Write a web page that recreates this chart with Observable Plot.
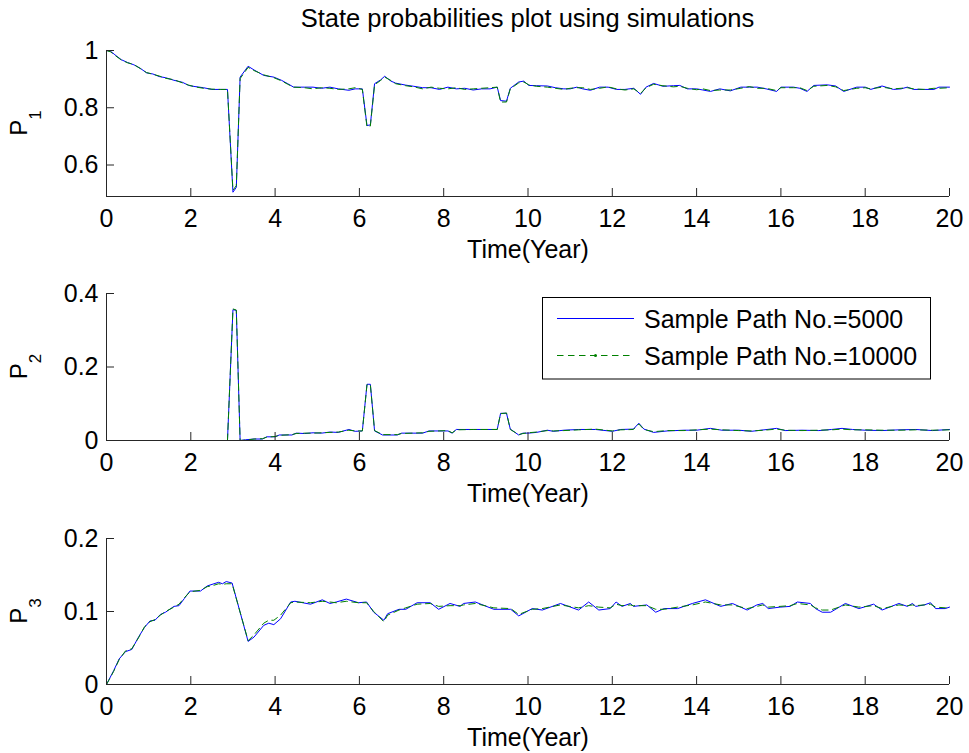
<!DOCTYPE html>
<html><head><meta charset="utf-8">
<script src="https://cdn.jsdelivr.net/npm/d3@7"></script>
<script src="https://cdn.jsdelivr.net/npm/@observablehq/plot@0.6"></script>
<style>
body{margin:0;background:#fff;}
#fig{position:relative;width:969px;height:753px;overflow:hidden;}
#fig svg{position:absolute;left:0;overflow:visible;}
</style></head><body><div id="fig"></div>
<script>
const FONT = '"Liberation Sans", Arial, Helvetica, sans-serif';
const chartTitle = "State probabilities plot using simulations";
const xLabel = "Time(Year)";
const yLabelBase = "P";
const ySubs = ["1", "2", "3"];
const seriesNames = ["Sample Path No.=5000", "Sample Path No.=10000"];
const xTicks = [0, 2, 4, 6, 8, 10, 12, 14, 16, 18, 20];
const yTicks1 = [0.6, 0.8, 1];
const yTicks2 = [0, 0.2, 0.4];
const yTicks3 = [0, 0.1, 0.2];
const yDomain1 = [0.49, 1];
const yDomain2 = [0, 0.4];
const yDomain3 = [0, 0.2];

const t1 = [
0, 0.1, 0.2, 0.35, 0.5, 0.65, 0.8, 0.95, 1.1, 1.25,
1.4, 1.6, 1.8, 1.95, 2.1, 2.3, 2.5, 2.7, 2.87, 3.0,
3.08, 3.17, 3.36, 3.5, 3.73, 3.97, 4.15, 4.3, 4.44, 4.7,
4.9, 5.1, 5.3, 5.5, 5.75, 5.9, 6.07, 6.18, 6.26, 6.36,
6.5, 6.6, 6.75, 6.86, 7.1, 7.29, 7.5, 7.7, 7.9, 8.1,
8.3, 8.5, 8.7, 8.9, 9.1, 9.27, 9.35, 9.49, 9.58, 9.78,
9.9, 10.02, 10.2, 10.46, 10.65, 10.85, 11.0, 11.16, 11.3, 11.48,
11.7, 11.9, 12.1, 12.3, 12.51, 12.67, 12.8, 12.98, 13.2, 13.45,
13.6, 13.78, 14.0, 14.15, 14.33, 14.55, 14.8, 15.05, 15.25, 15.44,
15.65, 15.9, 16.0, 16.3, 16.45, 16.62, 16.78, 17.1, 17.3, 17.49,
17.8, 18.0, 18.13, 18.4, 18.67, 18.85, 19.0, 19.15, 19.4, 19.63,
19.75, 20];
const p1_5000 = [
1.0, 0.997, 0.985, 0.968, 0.958, 0.950, 0.938, 0.922, 0.918, 0.909,
0.905, 0.896, 0.889, 0.878, 0.874, 0.870, 0.864, 0.864, 0.864, 0.505,
0.522, 0.907, 0.945, 0.932, 0.913, 0.907, 0.896, 0.884, 0.872, 0.872,
0.872, 0.868, 0.872, 0.866, 0.861, 0.866, 0.866, 0.738, 0.740, 0.884,
0.897, 0.910, 0.893, 0.886, 0.879, 0.875, 0.870, 0.870, 0.864, 0.872,
0.866, 0.868, 0.862, 0.866, 0.866, 0.872, 0.825, 0.823, 0.868, 0.890,
0.893, 0.878, 0.877, 0.876, 0.870, 0.866, 0.866, 0.872, 0.866, 0.861,
0.872, 0.872, 0.864, 0.864, 0.868, 0.847, 0.872, 0.885, 0.875, 0.877,
0.878, 0.866, 0.866, 0.862, 0.857, 0.866, 0.859, 0.872, 0.872, 0.872,
0.866, 0.857, 0.872, 0.872, 0.868, 0.857, 0.878, 0.880, 0.876, 0.857,
0.872, 0.872, 0.864, 0.876, 0.864, 0.866, 0.872, 0.864, 0.864, 0.864,
0.872, 0.872];
const p1_10000 = [
1.0, 0.995, 0.983, 0.967, 0.957, 0.951, 0.937, 0.923, 0.917, 0.911,
0.903, 0.898, 0.887, 0.879, 0.873, 0.868, 0.865, 0.864, 0.864, 0.512,
0.528, 0.902, 0.941, 0.930, 0.915, 0.905, 0.894, 0.882, 0.872, 0.870,
0.866, 0.870, 0.868, 0.864, 0.866, 0.870, 0.864, 0.733, 0.736, 0.880,
0.895, 0.907, 0.895, 0.884, 0.877, 0.873, 0.866, 0.872, 0.868, 0.866,
0.870, 0.864, 0.866, 0.868, 0.870, 0.872, 0.820, 0.820, 0.866, 0.887,
0.890, 0.880, 0.875, 0.872, 0.868, 0.864, 0.868, 0.870, 0.870, 0.864,
0.868, 0.873, 0.866, 0.862, 0.866, 0.850, 0.870, 0.882, 0.877, 0.873,
0.875, 0.868, 0.863, 0.866, 0.860, 0.862, 0.862, 0.868, 0.874, 0.868,
0.868, 0.860, 0.870, 0.870, 0.870, 0.860, 0.875, 0.878, 0.873, 0.860,
0.868, 0.870, 0.866, 0.872, 0.866, 0.868, 0.870, 0.866, 0.864, 0.868,
0.868, 0.870];

const t2 = [
0, 2.87, 3.0, 3.08, 3.17, 3.3, 3.5, 3.7, 3.8, 4.0,
4.1, 4.4, 4.5, 4.7, 4.9, 5.1, 5.3, 5.5, 5.75, 5.9,
6.07, 6.18, 6.26, 6.36, 6.55, 6.9, 7.0, 7.5, 7.65, 8.1,
8.2, 8.3, 8.7, 9.27, 9.35, 9.49, 9.58, 9.78, 9.88, 10.0,
10.2, 10.46, 10.6, 10.85, 11.2, 11.6, 12.0, 12.2, 12.5, 12.63,
12.75, 12.98, 13.3, 13.7, 14.0, 14.33, 14.6, 15.0, 15.3, 15.6,
15.9, 16.1, 16.5, 16.9, 17.2, 17.45, 17.7, 18.0, 18.4, 18.8,
19.2, 19.6, 20];
const p2_5000 = [
0, 0, 0.356, 0.354, 0, 0.002, 0.004, 0.004, 0.01, 0.01,
0.015, 0.015, 0.02, 0.019, 0.021, 0.02, 0.023, 0.022, 0.03, 0.025,
0.026, 0.153, 0.153, 0.026, 0.015, 0.015, 0.02, 0.02, 0.026, 0.026,
0.02, 0.03, 0.03, 0.03, 0.074, 0.074, 0.031, 0.015, 0.02, 0.02,
0.022, 0.028, 0.025, 0.028, 0.03, 0.03, 0.025, 0.03, 0.031, 0.047,
0.031, 0.022, 0.026, 0.028, 0.028, 0.033, 0.028, 0.028, 0.025, 0.029,
0.033, 0.027, 0.028, 0.027, 0.03, 0.033, 0.03, 0.028, 0.027, 0.029,
0.03, 0.027, 0.03];
const p2_10000 = [
0, 0, 0.358, 0.355, 0, 0.001, 0.004, 0.005, 0.009, 0.011,
0.014, 0.016, 0.019, 0.02, 0.02, 0.021, 0.022, 0.023, 0.028, 0.026,
0.026, 0.152, 0.152, 0.027, 0.016, 0.016, 0.019, 0.021, 0.025, 0.027,
0.021, 0.029, 0.03, 0.03, 0.073, 0.075, 0.03, 0.016, 0.019, 0.021,
0.023, 0.027, 0.026, 0.027, 0.029, 0.031, 0.026, 0.029, 0.03, 0.045,
0.03, 0.024, 0.027, 0.027, 0.029, 0.031, 0.029, 0.027, 0.026, 0.028,
0.031, 0.028, 0.027, 0.028, 0.029, 0.031, 0.029, 0.029, 0.028, 0.028,
0.029, 0.028, 0.029];

const t3 = [
0, 0.17, 0.3, 0.45, 0.6, 0.77, 0.9, 1.03, 1.15, 1.28,
1.4, 1.6, 1.72, 1.85, 1.98, 2.23, 2.39, 2.55, 2.66, 2.75,
2.84, 2.98, 3.36, 3.5, 3.73, 3.85, 3.97, 4.13, 4.37, 4.47,
4.84, 5.12, 5.3, 5.45, 5.69, 5.98, 6.17, 6.34, 6.58, 6.67,
6.94, 7.1, 7.37, 7.68, 7.88, 8.15, 8.39, 8.47, 8.75, 9.19,
9.59, 9.78, 10.1, 10.34, 10.77, 11.2, 11.44, 11.68, 11.95, 12.09,
12.23, 12.43, 12.5, 12.82, 13.03, 13.23, 13.55, 13.9, 14.21, 14.57,
14.85, 15.2, 15.43, 15.57, 15.7, 15.98, 16.22, 16.39, 16.7, 16.82,
16.98, 17.18, 17.53, 17.85, 18.2, 18.4, 18.8, 19.0, 19.12, 19.2,
19.4, 19.55, 19.67, 19.9, 20];
const p3_5000 = [
0, 0.019, 0.035, 0.045, 0.048, 0.066, 0.078, 0.087, 0.088, 0.096,
0.099, 0.107, 0.108, 0.118, 0.128, 0.128, 0.135, 0.138, 0.140, 0.138,
0.141, 0.139, 0.059, 0.065, 0.081, 0.084, 0.082, 0.090, 0.113, 0.114,
0.110, 0.116, 0.111, 0.113, 0.117, 0.112, 0.113, 0.099, 0.088, 0.097,
0.103, 0.103, 0.112, 0.112, 0.103, 0.111, 0.107, 0.111, 0.113, 0.103,
0.103, 0.094, 0.104, 0.102, 0.111, 0.102, 0.113, 0.102, 0.104, 0.113,
0.107, 0.111, 0.107, 0.109, 0.099, 0.104, 0.104, 0.111, 0.116, 0.107,
0.111, 0.102, 0.109, 0.111, 0.104, 0.106, 0.107, 0.113, 0.111, 0.104,
0.099, 0.099, 0.111, 0.104, 0.110, 0.102, 0.111, 0.107, 0.111, 0.107,
0.109, 0.112, 0.104, 0.104, 0.106];
const p3_10000 = [
0, 0.018, 0.034, 0.046, 0.049, 0.065, 0.079, 0.086, 0.089, 0.095,
0.100, 0.106, 0.110, 0.119, 0.127, 0.129, 0.134, 0.136, 0.138, 0.137,
0.138, 0.138, 0.060, 0.068, 0.084, 0.088, 0.088, 0.095, 0.112, 0.113,
0.112, 0.114, 0.113, 0.112, 0.114, 0.112, 0.112, 0.100, 0.086, 0.095,
0.102, 0.105, 0.110, 0.111, 0.107, 0.108, 0.108, 0.109, 0.111, 0.105,
0.104, 0.096, 0.103, 0.104, 0.109, 0.105, 0.108, 0.106, 0.105, 0.110,
0.108, 0.109, 0.108, 0.108, 0.103, 0.103, 0.106, 0.109, 0.113, 0.109,
0.109, 0.104, 0.107, 0.109, 0.106, 0.107, 0.108, 0.111, 0.109, 0.105,
0.102, 0.102, 0.109, 0.106, 0.108, 0.104, 0.109, 0.108, 0.109, 0.108,
0.109, 0.110, 0.106, 0.105, 0.106];

const BLUE = "#0000ff", GREEN = "#008000", AX = "#262626";
const DASH = "6.5,4.5";
const fig = document.getElementById("fig");

function panel(t, s5000, s10000, yDomain, yTicks, sub, top, mt, fh, h) {
  const rows = t.map((x, i) => ({t: x, a: s5000[i], b: s10000[i]}));
  const svg = Plot.plot({
    width: 969, height: h,
    marginLeft: 106, marginRight: 20, marginTop: mt, marginBottom: h - mt - fh,
    style: {fontFamily: FONT, fontSize: "25px", background: "transparent", color: "black", overflow: "visible"},
    x: {domain: [0, 20]},
    y: {domain: yDomain},
    marks: [
      Plot.line(rows, {x: "t", y: "a", stroke: BLUE, strokeWidth: 1}),
      Plot.line(rows, {x: "t", y: "b", stroke: GREEN, strokeWidth: 1, strokeDasharray: DASH}),
      Plot.ruleX([0], {stroke: AX}),
      Plot.ruleY([yDomain[0]], {stroke: AX}),
      Plot.axisX({ticks: xTicks, tickSize: -8, tickPadding: 21, tickFormat: d => String(d), label: null, stroke: AX}),
      Plot.axisY({ticks: yTicks, tickSize: -8, tickPadding: 16, tickFormat: d => String(d), label: null, stroke: AX}),
      Plot.text([xLabel], {text: d => d, frameAnchor: "bottom", lineAnchor: "top", dy: 44, fontSize: 25})
    ]
  });
  svg.style.top = top + "px";
  const lab = d3.select(svg).append("text")
    .attr("transform", `translate(27,${mt + fh / 2}) rotate(-90)`)
    .attr("text-anchor", "middle").attr("font-size", 24).attr("fill", "black");
  lab.append("tspan").text(yLabelBase);
  lab.append("tspan").attr("dy", 14).attr("font-size", 17).text(sub);
  fig.appendChild(svg);
}

panel(t1, p1_5000, p1_10000, yDomain1, yTicks1, ySubs[0], 0, 50, 146, 275);
panel(t2, p2_5000, p2_10000, yDomain2, yTicks2, ySubs[1], 265, 28, 147, 260);
panel(t3, p3_5000, p3_10000, yDomain3, yTicks3, ySubs[2], 490, 48, 146, 263);

// title + legend overlay
const ov = d3.select(fig).append("svg").attr("width", 969).attr("height", 753)
  .style("top", "0px").style("font-family", FONT).style("pointer-events", "none");
ov.append("text").attr("x", 527.5).attr("y", 27).attr("text-anchor", "middle")
  .attr("font-size", 25.5).attr("fill", "black").text(chartTitle);
const lg = ov.append("g");
lg.append("rect").attr("x", 542.5).attr("y", 297.5).attr("width", 388).attr("height", 81.5)
  .attr("fill", "white").attr("stroke", "black").attr("stroke-width", 1);
const items = [{name: seriesNames[0], color: BLUE, dash: null, y: 318.5},
               {name: seriesNames[1], color: GREEN, dash: DASH, y: 355.5}];
items.forEach((it, i) => {
  lg.append("line").attr("x1", 557).attr("x2", 634).attr("y1", it.y).attr("y2", it.y)
    .attr("stroke", it.color).attr("stroke-width", 1).attr("stroke-dasharray", it.dash);
  if (i === 1) lg.append("circle").attr("cx", 595.5).attr("cy", it.y).attr("r", 1.5).attr("fill", it.color);
  lg.append("text").attr("x", 644).attr("y", it.y + 9.5).attr("font-size", 25).attr("fill", "black").text(it.name);
});
</script>
</body></html>
